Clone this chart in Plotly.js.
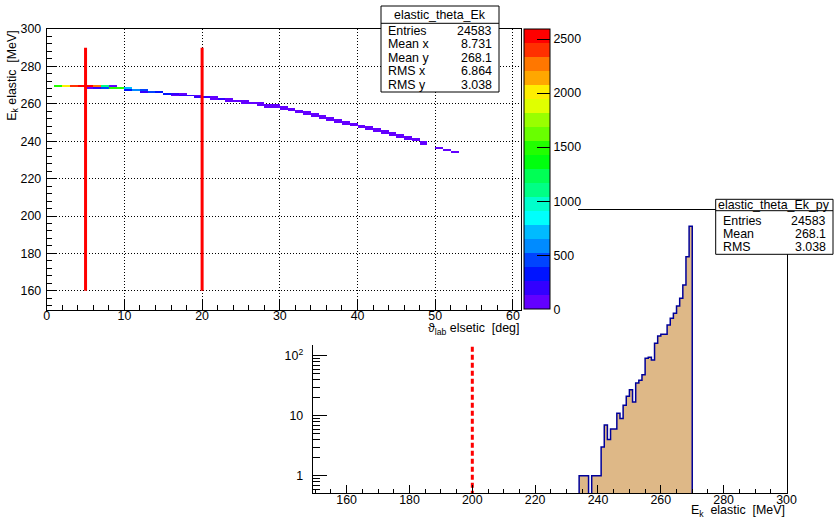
<!DOCTYPE html>
<html><head><meta charset="utf-8">
<script src="https://cdn.plot.ly/plotly-3.0.1.min.js"></script>
<style>html,body{margin:0;padding:0;background:#fff}#plot{width:834px;height:518px}</style>
</head><body><div id="plot"></div>
<script>
// ---------- DATA ----------
// 2D histogram cells: theta bin lower edge [deg], Ek bin lower edge [MeV], entries
const cellTheta = [1,2,3,4,5,5,6,6,7,7,8,8,9,10,10,11,12,12,13,14,15,16,16,17,17,18,19,19,20,21,21,22,23,23,24,25,25,26,27,27,28,28,29,29,30,30,31,31,32,32,33,33,34,34,35,35,36,36,37,37,38,38,39,39,40,40,41,41,42,42,43,43,44,44,45,45,46,46,47,47,48,48,50,51,52];
const cellEk    = [269,269,269,269,269,268,269,268,269,268,269,268,268,268,267,267,267,266,266,266,265,265,264,265,264,264,264,263,263,263,262,262,262,261,261,261,260,260,260,259,259,258,259,258,258,257,257,256,256,255,255,254,254,253,253,252,252,251,251,250,250,249,249,248,248,247,247,246,246,245,245,244,244,243,243,242,242,241,241,240,239,238,236,235,234];
const cellCount = [1480,2050,2380,2560,2520,110,2250,230,1090,480,70,1450,1500,697,380,640,488,200,430,276,330,230,80,113,170,200,59,140,180,100,80,160,85,60,120,47,70,110,47,60,90,30,63,70,61,40,45,40,54,40,51,20,28,22,17,20,15,8,9,14,13,10,11,9,6,5,4,6,5,3,3,4,2,2,2,4,3,1,2,1,1,1,1,1,1];

// Projection on Ek (elastic_theta_Ek_py): bin lower edges [MeV] and entries
const pyEk     = [234,235,236,237,238,239,240,241,242,243,244,245,246,247,248,249,250,251,252,253,254,255,256,257,258,259,260,261,262,263,264,265,266,267,268,269];
const pyCounts = [1,1,1,0,1,1,1,3,7,4,6,6,11,9,15,21,27,17,35,39,48,91,94,85,161,213,227,227,325,420,509,673,906,1508,4467,14400];

// cut lines
const cutTheta = [5, 20];          // deg
const cutThetaEk = [160, 290];     // MeV extent of the theta cut lines
const cutEk = 200;                 // MeV

// palette (ROOT pretty palette, 20 contour levels)
const paletteColors = ['#6300ff','#3300ff','#0014ff','#0044ff','#008bff','#00bbff','#00fffc','#00ffcc','#00ff85','#00ff55','#00ff0e','#22ff00','#69ff00','#99ff00','#e0ff00','#ffee00','#ffa700','#ff7700','#ff3000','#ff0000'];
const paletteTicks = [0,500,1000,1500,2000,2500];
const zMax = 2590;

// statistics boxes
const stats2DTitle = 'elastic_theta_Ek';
const stats2DLabels = ['Entries','Mean x','Mean y','RMS x','RMS y'];
const stats2DValues = ['24583','8.731','268.1','6.864','3.038'];
const statsPyTitle = 'elastic_theta_Ek_py';
const statsPyLabels = ['Entries','Mean','RMS'];
const statsPyValues = ['24583','268.1','3.038'];

// axis tick values
const insetXTicks = [160,180,200,220,240,260,280,300];
const insetYTicks = [1,10,100];
const insetYTickText = ['1','10','10<sup>2</sup>'];

// ---------- LAYOUT HELPERS ----------
const W = 834, H = 518;
const fx = p => p / W;
const fy = p => 1 - p / H;
const FONT = 'Liberation Sans, Arial, Helvetica, sans-serif';
const FS = 12.4;
const NB = '\u00a0';

// 2D matrix
const thetaEdges = []; for (let t = 0; t <= 61; t++) thetaEdges.push(t);
const ekEdges = []; for (let e = 150; e <= 300; e++) ekEdges.push(e);
const z = ekEdges.slice(0, -1).map(() => thetaEdges.slice(0, -1).map(() => null));
cellTheta.forEach((t, i) => { z[cellEk[i] - 150][t] = cellCount[i]; });

const cs = [];
paletteColors.forEach((c, i) => { cs.push([i / 20, c]); cs.push([(i + 1) / 20, c]); });

// projection outline (step)
const floorVal = 1e-3;
const outX = [pyEk[0]], outY = [floorVal];
pyEk.forEach((e, i) => { outX.push(e); outY.push(pyCounts[i] > 0 ? pyCounts[i] : floorVal); });
outX.push(pyEk[pyEk.length - 1] + 1); outY.push(floorVal);

// cut lines in theta
const cutX = [], cutY = [];
cutTheta.forEach(t => { cutX.push(t, t, null); cutY.push(cutThetaEk[0], cutThetaEk[1], null); });

const traces = [
  // inset (subplot xy, drawn first)
  {type: 'bar', x: pyEk.map(e => e + 0.5), y: pyCounts.map(v => v > 0 ? v : null), width: 1,
   marker: {color: '#deb887', line: {width: 0}}, xaxis: 'x', yaxis: 'y', hoverinfo: 'skip', showlegend: false},
  {type: 'scatter', mode: 'lines', x: outX, y: outY, line: {shape: 'hv', color: '#000099', width: 1.5},
   xaxis: 'x', yaxis: 'y', hoverinfo: 'skip', showlegend: false},
  {type: 'scatter', mode: 'lines', x: [cutEk, cutEk], y: [floorVal, 1e7], line: {color: '#ff0000', width: 3, dash: '5px,3px'},
   xaxis: 'x', yaxis: 'y', hoverinfo: 'skip', showlegend: false},
  // mask = top pad area (subplot x2y2)
  {type: 'scatter', x: [null], y: [null], xaxis: 'x2', yaxis: 'y2', hoverinfo: 'skip', showlegend: false},
  // top pad 2D histogram (subplot x3y3)
  {type: 'heatmap', x: thetaEdges, y: ekEdges, z: z, zmin: 0, zmax: zMax, colorscale: cs, zsmooth: false,
   xaxis: 'x3', yaxis: 'y3', hoverinfo: 'skip',
   colorbar: {thickness: 26, thicknessmode: 'pixels', len: 280, lenmode: 'pixels',
     x: fx(524), xanchor: 'left', y: fy(29.3), yanchor: 'top', xpad: 0, ypad: 0,
     outlinewidth: 1, outlinecolor: '#000', tickmode: 'array', tickvals: paletteTicks,
     ticks: 'inside', ticklen: 13, tickwidth: 1, tickcolor: '#000',
     tickfont: {family: FONT, size: FS, color: '#000'}}},
  {type: 'scatter', mode: 'lines', x: cutX, y: cutY, line: {color: '#ff0000', width: 3},
   xaxis: 'x3', yaxis: 'y3', hoverinfo: 'skip', showlegend: false}
];

const tickfont = {family: FONT, size: FS, color: '#000'};

// stats boxes as shapes + annotations
const shapes = [];
const annotations = [];
function statsBox(x0, x1, y0, yHead, y1, title, labels, values, rowY) {
  shapes.push({type: 'rect', xref: 'paper', yref: 'paper', x0: fx(x0), x1: fx(x1), y0: fy(y0), y1: fy(y1),
               fillcolor: '#fff', line: {color: '#000', width: 1}, layer: 'above'});
  shapes.push({type: 'line', xref: 'paper', yref: 'paper', x0: fx(x0), x1: fx(x1), y0: fy(yHead), y1: fy(yHead),
               line: {color: '#000', width: 1}, layer: 'above'});
  annotations.push({xref: 'paper', yref: 'paper', x: fx((x0 + x1) / 2), y: fy((y0 + yHead) / 2), text: title,
                    showarrow: false, xanchor: 'center', yanchor: 'middle', font: tickfont});
  labels.forEach((l, i) => {
    annotations.push({xref: 'paper', yref: 'paper', x: fx(x0 + 5), y: fy(rowY[i]), text: l, showarrow: false,
                      xanchor: 'left', yanchor: 'middle', font: tickfont});
    annotations.push({xref: 'paper', yref: 'paper', x: fx(x1 - 5), y: fy(rowY[i]), text: values[i], showarrow: false,
                      xanchor: 'right', yanchor: 'middle', font: tickfont});
  });
}
statsBox(381, 499, 6, 23.3, 92, stats2DTitle, stats2DLabels, stats2DValues, [30.5, 44, 57.5, 71, 84.5]);
statsBox(715.7, 833, 199.3, 210.7, 254.3, statsPyTitle, statsPyLabels, statsPyValues, [220.5, 234, 247.3]);

// axis titles
annotations.push({xref: 'paper', yref: 'paper', x: fx(12.7), y: fy(29), text: 'E<sub>k</sub>' + NB + 'elastic' + NB + NB + '[MeV]',
  textangle: -90, showarrow: false, xanchor: 'center', yanchor: 'top', font: tickfont});
annotations.push({xref: 'paper', yref: 'paper', x: fx(520.7), y: fy(329), text: '\u03d1<sub>lab</sub>' + NB + 'elsetic' + NB + NB + '[deg]',
  showarrow: false, xanchor: 'right', yanchor: 'middle', font: tickfont});
annotations.push({xref: 'paper', yref: 'paper', x: fx(786.5), y: fy(511), text: 'E<sub>k</sub>' + NB + NB + 'elastic' + NB + NB + '[MeV]',
  showarrow: false, xanchor: 'right', yanchor: 'middle', font: tickfont});

const layout = {
  width: W, height: H, margin: {l: 0, r: 0, t: 0, b: 0}, paper_bgcolor: '#fff', plot_bgcolor: '#fff',
  showlegend: false, hovermode: false, bargap: 0,
  font: {family: FONT, size: FS, color: '#000'},
  // inset
  xaxis: {domain: [fx(312.7), fx(786.5)], range: [149.2, 300], anchor: 'y', showline: true, linecolor: '#000', linewidth: 1,
          mirror: true, ticks: 'inside', ticklen: 8, tickwidth: 1, tickcolor: '#000', tickmode: 'array', tickvals: insetXTicks,
          minor: {ticks: 'inside', ticklen: 4, tickwidth: 1, tickcolor: '#000', dtick: 5, tick0: 0},
          showgrid: false, zeroline: false, tickfont: tickfont, ticklabelstandoff: -5},
  yaxis: {type: 'log', domain: [fy(493), fy(210)], range: [-0.288, 4.428], anchor: 'x', showline: true, linecolor: '#000',
          linewidth: 1, mirror: true, ticks: 'inside', ticklen: 14, tickwidth: 1, tickcolor: '#000', tickmode: 'array',
          tickvals: insetYTicks, ticktext: insetYTickText,
          minor: {ticks: 'inside', ticklen: 7, tickwidth: 1, tickcolor: '#000', tickmode: 'array',
                  tickvals: [0.6,0.7,0.8,0.9,2,3,4,5,6,7,8,9,20,30,40,50,60,70,80,90,200,300,400,500,600,700,800,900]},
          showgrid: false, zeroline: false, tickfont: tickfont, ticklabelstandoff: 6},
  // mask (top pad area)
  xaxis2: {domain: [0, fx(578)], range: [0, 1], anchor: 'y2', visible: false, fixedrange: true},
  yaxis2: {domain: [fy(345), 1], range: [0, 1], anchor: 'x2', visible: false, fixedrange: true},
  // top pad
  xaxis3: {domain: [fx(46.7), fx(520.7)], range: [0, 61], anchor: 'y3', showline: true, linecolor: '#000', linewidth: 1,
           mirror: true, ticks: 'inside', ticklen: 10, tickwidth: 1, tickcolor: '#000', dtick: 10, tick0: 0,
           minor: {ticks: 'inside', ticklen: 5, tickwidth: 1, tickcolor: '#000', dtick: 2, tick0: 0},
           showgrid: true, gridcolor: '#000', griddash: '1px,2px', gridwidth: 1, zeroline: false,
           tickfont: tickfont, ticklabelstandoff: -5},
  yaxis3: {domain: [fy(309.5), fy(29)], range: [150, 300], anchor: 'x3', showline: true, linecolor: '#000', linewidth: 1,
           mirror: true, ticks: 'inside', ticklen: 10, tickwidth: 1, tickcolor: '#000', dtick: 20, tick0: 0,
           minor: {ticks: 'inside', ticklen: 5, tickwidth: 1, tickcolor: '#000', dtick: 4, tick0: 0},
           showgrid: true, gridcolor: '#000', griddash: '1px,2px', gridwidth: 1, zeroline: false,
           tickfont: tickfont, ticklabelstandoff: 2},
  shapes: shapes,
  annotations: annotations
};

Plotly.newPlot('plot', traces, layout, {staticPlot: true, displayModeBar: false});
</script>
</body></html>
